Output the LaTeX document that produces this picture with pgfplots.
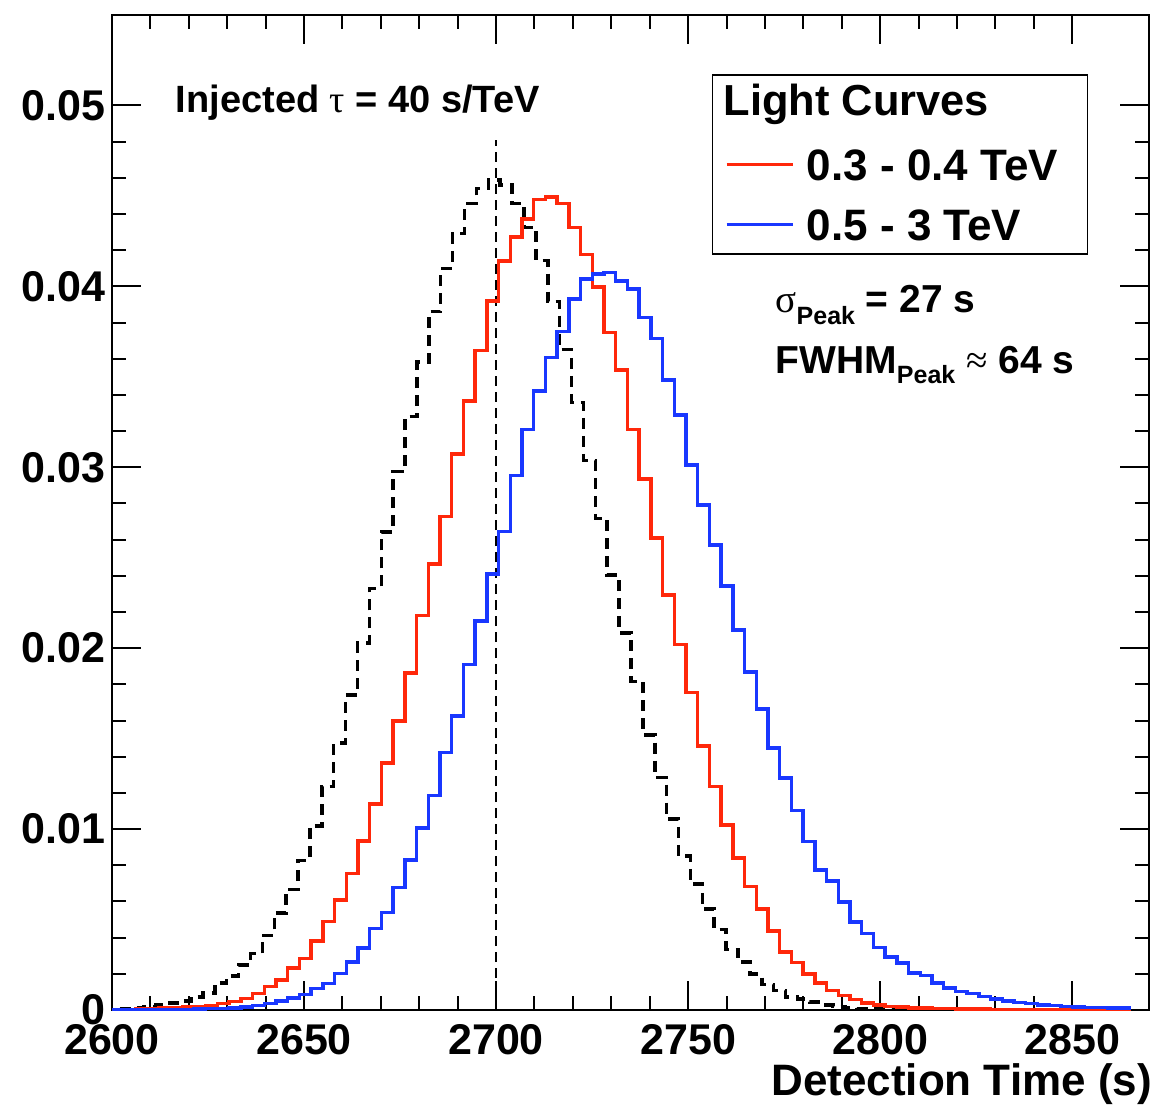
\documentclass[border=0pt]{standalone}
\usepackage{fontspec}
\setmainfont{Liberation Sans}
\newfontfamily\symf{Liberation Serif}
\usepackage{pgfplots}
\usepackage{pgfplotstable}
\pgfplotsset{compat=1.18}
\definecolor{rootred}{RGB}{255,40,10}
\definecolor{rootblue}{RGB}{25,55,255}

\pgfplotstableread{
x y
2600.00 0.00003
2603.05 0.00004
2606.10 0.00006
2609.15 0.00008
2612.20 0.00010
2615.25 0.00012
2618.30 0.00016
2621.35 0.00019
2624.40 0.00025
2627.45 0.00035
2630.50 0.00048
2633.55 0.00064
2636.60 0.00092
2639.65 0.00130
2642.70 0.00167
2645.75 0.00232
2648.80 0.00285
2651.85 0.00382
2654.90 0.00490
2657.95 0.00609
2661.00 0.00754
2664.05 0.00935
2667.10 0.01140
2670.15 0.01365
2673.20 0.01598
2676.25 0.01862
2679.30 0.02180
2682.35 0.02464
2685.40 0.02727
2688.45 0.03072
2691.50 0.03366
2694.55 0.03646
2697.60 0.03919
2700.65 0.04141
2703.70 0.04274
2706.75 0.04372
2709.80 0.04481
2712.85 0.04495
2715.90 0.04459
2718.95 0.04324
2722.00 0.04175
2725.05 0.03996
2728.10 0.03744
2731.15 0.03538
2734.20 0.03210
2737.25 0.02935
2740.30 0.02608
2743.35 0.02294
2746.40 0.02020
2749.45 0.01755
2752.50 0.01460
2755.55 0.01235
2758.60 0.01024
2761.65 0.00840
2764.70 0.00683
2767.75 0.00558
2770.80 0.00438
2773.85 0.00320
2776.90 0.00263
2779.95 0.00200
2783.00 0.00149
2786.05 0.00108
2789.10 0.00079
2792.15 0.00057
2795.20 0.00039
2798.25 0.00028
2801.30 0.00018
2804.35 0.00016
2807.40 0.00011
2810.45 0.00010
2813.50 0.00008
2816.55 0.00007
2819.60 0.00006
2822.65 0.00005
2825.70 0.00005
2828.75 0.00004
2831.80 0.00004
2834.85 0.00003
2837.90 0.00003
2840.95 0.00003
2844.00 0.00002
2847.05 0.00002
2850.10 0.00002
2853.15 0.00002
2856.20 0.00001
2859.25 0.00001
2862.30 0.00001
2865.35 0.00001
}\redtab

\pgfplotstableread{
x y
2600.00 0.00001
2603.05 0.00001
2606.10 0.00002
2609.15 0.00002
2612.20 0.00003
2615.25 0.00003
2618.30 0.00004
2621.35 0.00005
2624.40 0.00007
2627.45 0.00009
2630.50 0.00012
2633.55 0.00016
2636.60 0.00025
2639.65 0.00036
2642.70 0.00050
2645.75 0.00067
2648.80 0.00086
2651.85 0.00119
2654.90 0.00147
2657.95 0.00202
2661.00 0.00264
2664.05 0.00344
2667.10 0.00451
2670.15 0.00540
2673.20 0.00676
2676.25 0.00828
2679.30 0.01006
2682.35 0.01186
2685.40 0.01423
2688.45 0.01626
2691.50 0.01910
2694.55 0.02151
2697.60 0.02409
2700.65 0.02644
2703.70 0.02954
2706.75 0.03210
2709.80 0.03422
2712.85 0.03608
2715.90 0.03750
2718.95 0.03929
2722.00 0.04041
2725.05 0.04068
2728.10 0.04078
2731.15 0.04029
2734.20 0.03986
2737.25 0.03828
2740.30 0.03713
2743.35 0.03482
2746.40 0.03289
2749.45 0.03013
2752.50 0.02792
2755.55 0.02571
2758.60 0.02344
2761.65 0.02101
2764.70 0.01867
2767.75 0.01665
2770.80 0.01448
2773.85 0.01282
2776.90 0.01103
2779.95 0.00932
2783.00 0.00775
2786.05 0.00714
2789.10 0.00597
2792.15 0.00486
2795.20 0.00422
2798.25 0.00346
2801.30 0.00293
2804.35 0.00260
2807.40 0.00204
2810.45 0.00191
2813.50 0.00149
2816.55 0.00122
2819.60 0.00103
2822.65 0.00090
2825.70 0.00075
2828.75 0.00062
2831.80 0.00051
2834.85 0.00042
2837.90 0.00035
2840.95 0.00029
2844.00 0.00024
2847.05 0.00020
2850.10 0.00017
2853.15 0.00015
2856.20 0.00013
2859.25 0.00011
2862.30 0.00010
2865.35 0.00010
}\bluetab

\pgfplotstableread{
x y
2602.00 0.00007
2605.10 0.00012
2608.19 0.00020
2611.29 0.00029
2614.38 0.00038
2617.48 0.00050
2620.58 0.00073
2623.67 0.00094
2626.77 0.00149
2629.86 0.00188
2632.96 0.00250
2636.06 0.00311
2639.15 0.00412
2642.25 0.00536
2645.34 0.00667
2648.44 0.00827
2651.54 0.01018
2654.63 0.01235
2657.73 0.01475
2660.82 0.01742
2663.92 0.02028
2667.02 0.02331
2670.11 0.02641
2673.21 0.02976
2676.30 0.03280
2679.40 0.03583
2682.50 0.03860
2685.59 0.04100
2688.69 0.04293
2691.78 0.04459
2694.88 0.04541
2697.98 0.04587
2701.07 0.04560
2704.17 0.04459
2707.26 0.04326
2710.36 0.04142
2713.46 0.03915
2716.55 0.03650
2719.65 0.03359
2722.74 0.03037
2725.84 0.02718
2728.94 0.02405
2732.03 0.02083
2735.13 0.01815
2738.22 0.01521
2741.32 0.01285
2744.42 0.01055
2747.51 0.00852
2750.61 0.00696
2753.70 0.00558
2756.80 0.00444
2759.90 0.00335
2762.99 0.00265
2766.09 0.00200
2769.18 0.00140
2772.28 0.00108
2775.38 0.00072
2778.47 0.00060
2781.57 0.00044
2784.66 0.00028
2787.76 0.00018
2790.86 0.00010
2793.95 0.00008
2797.05 0.00006
2800.14 0.00005
2803.24 0.00004
2806.34 0.00004
2809.43 0.00003
2812.53 0.00003
2815.62 0.00002
2818.72 0.00002
2821.82 0.00002
2824.91 0.00001
2828.01 0.00001
2831.10 0.00001
2834.20 0.00001
2837.30 0.00001
2840.39 0.00001
2843.49 0.00001
2846.58 0.00001
2849.68 0.00001
2852.78 0.00001
2855.87 0.00001
2858.97 0.00001
2862.06 0.00001
2865.16 0.00001
}\blacktab

\begin{document}
\begin{tikzpicture}
\begin{axis}[
  name=ax,
  scale only axis,
  width=518.5pt, height=497.5pt,
  xmin=2600, xmax=2870, ymin=0, ymax=0.055,
  xtick={2600,2650,2700,2750,2800,2850},
  xticklabels={2600,2650,2700,2750,2800,2850},
  ytick={0,0.01,0.02,0.03,0.04,0.05},
  yticklabels={0,0.01,0.02,0.03,0.04,0.05},
  minor x tick num=4, minor y tick num=4,
  tick pos=both, tick align=inside,
  major tick length=14.5pt, minor tick length=7pt,
  every tick/.append style={black, line width=1pt},
  axis line style={line width=1.3pt},
  tick label style={font=\fontsize{21.5}{24}\selectfont\bfseries},
  yticklabel style={xshift=0pt},
  xticklabel style={yshift=-3.5pt},
  xlabel={Detection Time (s)},
  xlabel style={at={(rel axis cs:1,0)}, anchor=base east, yshift=-42.5pt, xshift=5pt, font=\fontsize{22}{24}\selectfont\bfseries},
  clip mode=individual,
]
\addplot[black, line width=1pt, dash pattern=on 5pt off 3pt] coordinates {(2700,0) (2700,0.0481)};
\addplot[black, line width=1.75pt, dash pattern=on 5.5pt off 3.5pt, const plot mark left] table[x=x,y=y]{\blacktab};
\addplot[rootred, line width=1.75pt, const plot mark left] table[x=x,y=y]{\redtab};
\addplot[rootblue, line width=1.75pt, const plot mark left] table[x=x,y=y]{\bluetab};

\node[anchor=base west, font=\fontsize{19}{22}\selectfont\bfseries, inner sep=0pt] at (axis cs:2616.5,0.04963) {Injected {\symf\mdseries τ} = 40 s/TeV};
\node[anchor=base west, font=\fontsize{19.5}{22}\selectfont\bfseries, inner sep=0pt] at (axis cs:2772.7,0.03853) {{\symf\mdseries σ}\raisebox{-6pt}{\fontsize{12.5}{13}\selectfont Peak} = 27 s};
\node[anchor=base west, font=\fontsize{19.5}{22}\selectfont\bfseries, inner sep=0pt] at (axis cs:2772.7,0.0352) {FWHM\raisebox{-5pt}{\fontsize{12.5}{13}\selectfont Peak} {\symf\mdseries ≈} 64 s};

\draw[line width=0.75pt, fill=white] (axis cs:2756.3,0.04178) rectangle (axis cs:2854.0,0.05167);
\node[anchor=base west, font=\fontsize{21.7}{24}\selectfont\bfseries, inner sep=0pt] at (axis cs:2759.2,0.04947) {Light Curves};
\draw[rootred, line width=1.5pt] (axis cs:2760,0.04676) -- (axis cs:2777.2,0.04676);
\draw[rootblue, line width=1.5pt] (axis cs:2760,0.04344) -- (axis cs:2777.2,0.04344);
\node[anchor=base west, font=\fontsize{22}{24}\selectfont\bfseries, inner sep=0pt] at (axis cs:2780.8,0.04587) {0.3 - 0.4 TeV};
\node[anchor=base west, font=\fontsize{22}{24}\selectfont\bfseries, inner sep=0pt] at (axis cs:2780.8,0.04256) {0.5 - 3 TeV};
\end{axis}
\pgfresetboundingbox
\path ([shift={(-56pt,-47pt)}]ax.south west) rectangle ([shift={(4pt,7.5pt)}]ax.north east);
\end{tikzpicture}
\end{document}
